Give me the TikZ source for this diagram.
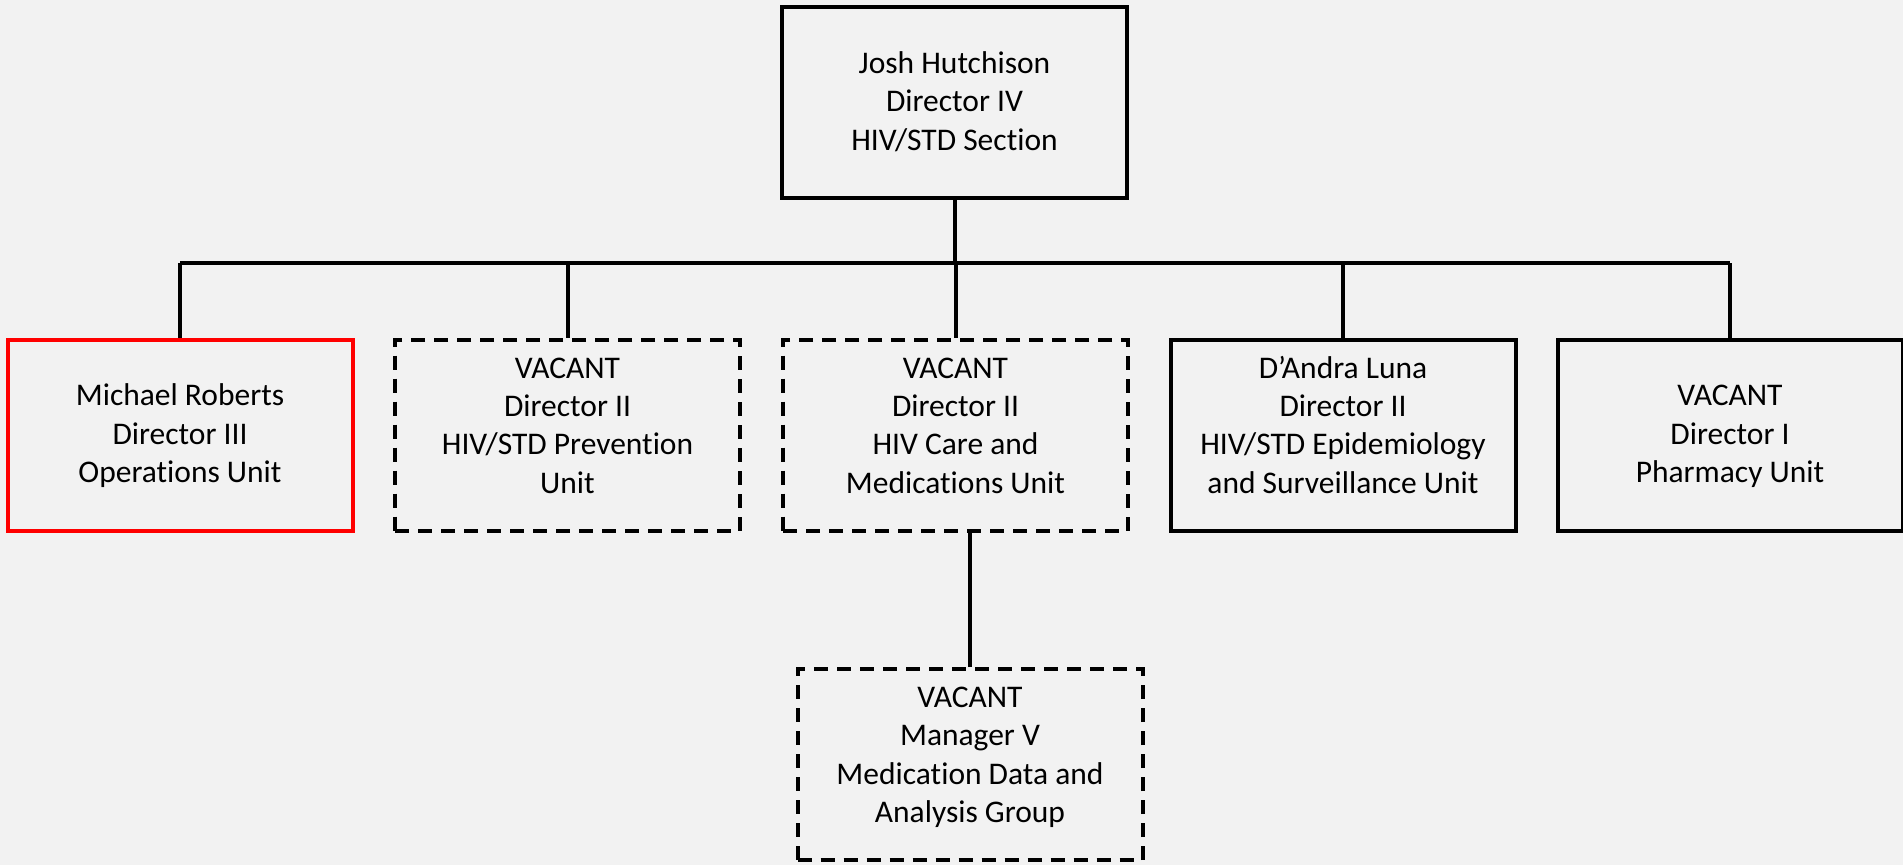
\documentclass[tikz,border=0pt]{standalone}
\usepackage{fontspec}
\setmainfont[Ligatures={NoCommon,NoRare}]{Carlito}
\definecolor{bg}{HTML}{F2F2F2}
\newcommand\boxtext[2]{\raisebox{#1}[\height][\depth]{\begin{tabular}{@{}c@{}}#2\end{tabular}}}
\begin{document}
\begin{tikzpicture}[x=1pt,y=-1pt,
  box/.style={draw=black, line width=4pt, minimum width=345pt, minimum height=191pt,
    inner sep=0pt, font=\fontsize{31.5}{38.4}\selectfont},
  vacant/.style={box, dash pattern=on 14pt off 9pt},
  redbox/.style={box, draw=red},
  conn/.style={line width=4pt}]
\fill[bg] (0,0) rectangle (1903,865);
\useasboundingbox (0,0) rectangle (1903,865);
\node[box] (top) at (954.5,102) {\boxtext{-2pt}{Josh Hutchison\\Director IV\\HIV/STD Section}};
\node[redbox] (b1) at (180,435) {\boxtext{-1.5pt}{Michael Roberts\\Director III\\Operations Unit}};
\node[vacant] (b2) at (567.5,435) {\boxtext{7pt}{VACANT\\Director II\\HIV/STD Prevention\\Unit}};
\node[vacant] (b3) at (955.5,435) {\boxtext{7pt}{VACANT\\Director II\\HIV Care and\\Medications Unit}};
\node[box] (b4) at (1343,435) {\boxtext{7pt}{D’Andra Luna\\Director II\\HIV/STD Epidemiology\\and Surveillance Unit}};
\node[box] (b5) at (1730,435) {\boxtext{-1.5pt}{VACANT\\Director I\\Pharmacy Unit}};
\node[vacant] (b6) at (970,764.5) {\boxtext{7pt}{VACANT\\Manager V\\Medication Data and\\Analysis Group}};
\coordinate (bar) at (954,263);
\draw[conn] (top.south) -- (top.south |- bar);
\draw[conn] (b1.north |- bar) -- (b5.north |- bar);
\foreach \b in {b1,b2,b3,b4,b5}{
  \draw[conn] (\b.north) -- (\b.north |- bar);
}
\draw[conn] (b6.north) -- (b6.north |- b3.south);
\end{tikzpicture}
\end{document}
